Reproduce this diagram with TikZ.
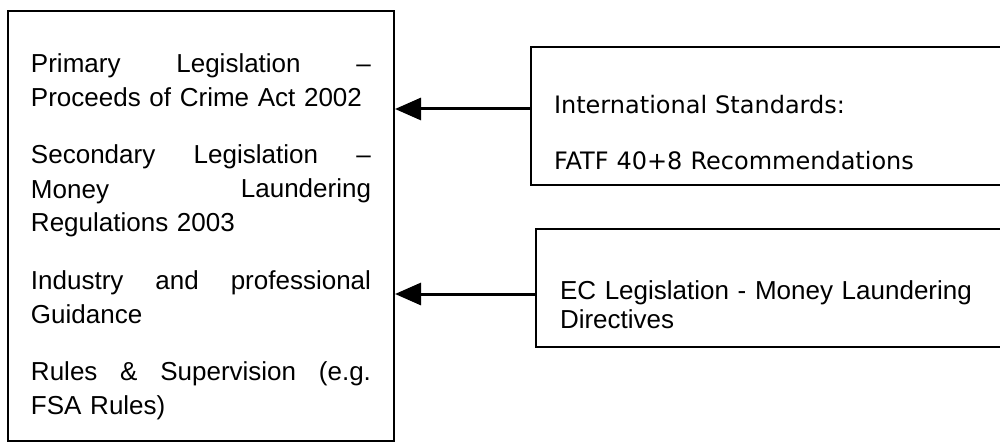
\documentclass[tikz,border=0pt]{standalone}
\usepackage{fontspec}
\setmainfont{Liberation Sans}
\newfontfamily\stdfont{DejaVu Sans}
\usetikzlibrary{arrows.meta}
\begin{document}
\begin{tikzpicture}[x=0.5pt,y=-0.5pt,>={Triangle[length=13pt,width=11pt]},
  legbox/.style={draw,line width=1pt,anchor=north west,inner ysep=0pt,align=left}]
\useasboundingbox (0,0) rectangle (1000,444);
\node[legbox,inner xsep=11.5pt,text width=170pt,text height=31pt,text depth=184pt,
  font=\fontsize{13}{17}\selectfont] (law) at (7,10)
  {Primary\hfill Legislation\hfill –\\
   Proceeds of Crime Act 2002\\[11.5pt]
   Secondary\hfill Legislation\hfill –\\
   Money\hfill Laundering\\
   Regulations 2003\\[11.5pt]
   Industry\hfill and\hfill professional\\
   Guidance\\[11.5pt]
   Rules\hfill \&\hfill Supervision\hfill (e.g.\\
   FSA Rules)};
\node[legbox,inner xsep=11.5pt,text width=214pt,text height=33pt,text depth=36pt,
  font=\stdfont\fontsize{12}{28}\selectfont] (intl) at (530,46)
  {International Standards:\\
   FATF 40+8 Recommendations};
\node[legbox,inner xsep=12pt,text width=210.5pt,text height=35pt,text depth=24pt,
  font=\fontsize{13}{14.5}\selectfont] (ec) at (535,228)
  {EC Legislation - Money Laundering\\
   Directives};
\coordinate (intlout) at ([yshift=3.5pt]intl.west);
\coordinate (ecout) at ([yshift=-3pt]ec.west);
\draw[->,line width=1.5pt] (intlout) -- (intlout -| law.east);
\draw[->,line width=1.5pt] (ecout) -- (ecout -| law.east);
\end{tikzpicture}
\end{document}
